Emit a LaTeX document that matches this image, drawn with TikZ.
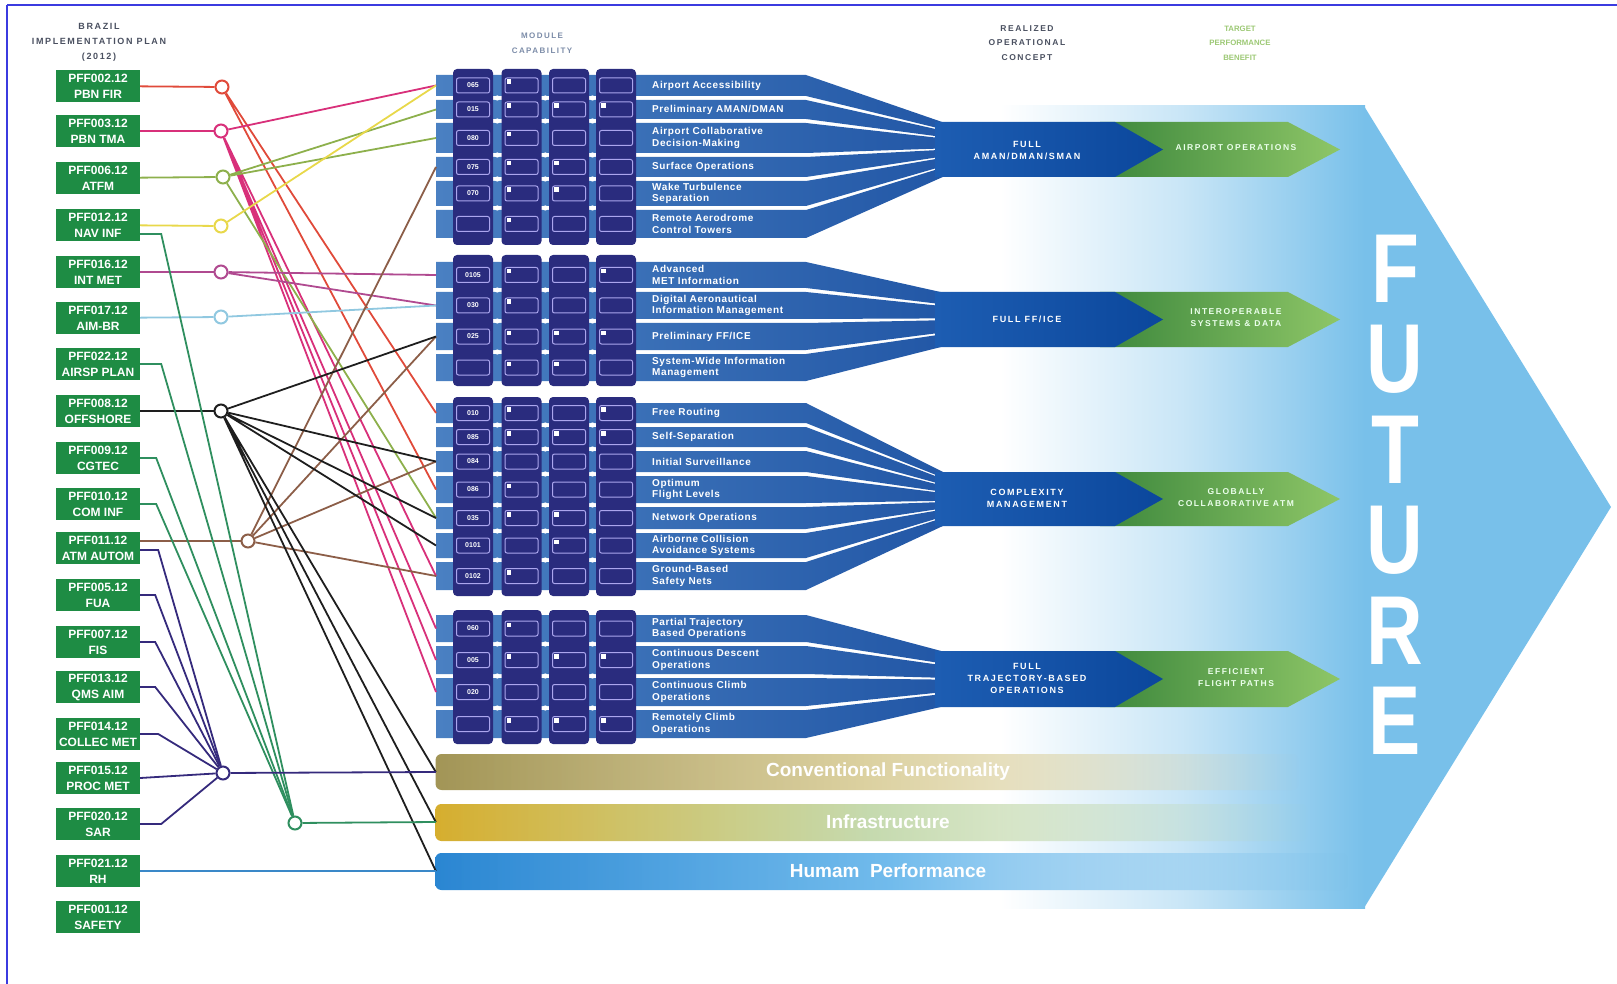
\documentclass[tikz,border=0pt]{standalone}
\usepackage{fontspec}
\setmainfont{Liberation Sans}
\newfontfamily\wfont[LetterSpace=18]{Liberation Sans}
\newfontfamily\lfont[LetterSpace=6]{Liberation Sans}
\usetikzlibrary{fadings}
\definecolor{frameblue}{HTML}{3B3BE0}
\definecolor{futblue}{HTML}{78C0EA}
\definecolor{bandL}{HTML}{4A80C2}
\definecolor{bandR}{HTML}{2257A6}
\definecolor{conBlue}{HTML}{0B479C}
\definecolor{conBlueL}{HTML}{1D5DB2}
\definecolor{grnL}{HTML}{3C873C}
\definecolor{grnR}{HTML}{8EC667}
\definecolor{colNavy}{HTML}{2A2C7E}
\definecolor{boxLine}{HTML}{ABA6EE}
\definecolor{pffGreen}{HTML}{1E8C44}
\definecolor{lnRed}{HTML}{E04A3A}
\definecolor{lnMag}{HTML}{D8307A}
\definecolor{lnOlive}{HTML}{8DB04C}
\definecolor{lnYel}{HTML}{E8D84A}
\definecolor{lnPur}{HTML}{B04A90}
\definecolor{lnSky}{HTML}{90C8E0}
\definecolor{lnBlk}{HTML}{1E1E1E}
\definecolor{lnBrn}{HTML}{8C5E48}
\definecolor{lnGrn}{HTML}{2F8F5F}
\definecolor{lnNavy}{HTML}{352A7C}
\definecolor{lnBlue}{HTML}{3A88C8}
\definecolor{convL}{HTML}{A29556}
\definecolor{convM}{HTML}{D8CC96}
\definecolor{infL}{HTML}{D6AE2E}
\definecolor{infM}{HTML}{BFD6A6}
\definecolor{humL}{HTML}{2A86D2}
\definecolor{humM}{HTML}{62B4EA}
\definecolor{hdGray}{HTML}{4A5060}
\definecolor{hdBlue}{HTML}{7C8CA8}
\definecolor{hdGreen}{HTML}{9CC874}
\tikzfading[name=fadeR, left color=transparent!0, right color=transparent!100, middle color=transparent!10]
\begin{document}
\begin{tikzpicture}[x=1pt,y=-1pt,
  pff/.style={fill=pffGreen, text=white, font=\bfseries\fontsize{12}{16}\selectfont, minimum width=84pt, minimum height=32pt, inner sep=0pt, align=center},
  jn/.style={circle, minimum size=13pt, inner sep=0pt, fill=white, line width=2pt},
  ln/.style={line width=1.8pt},
  ibox/.style={draw=boxLine, fill=colNavy, line width=1pt, rounded corners=2pt},
  code/.style={text=white, font=\bfseries\fontsize{7}{8}\selectfont, inner sep=0pt},
  mlab/.style={anchor=west, text=white, align=left, inner sep=0pt, font=\lfont\bfseries\fontsize{10}{11.5}\selectfont},
  ctext/.style={text=white, align=center, inner sep=0pt, font=\wfont\bfseries\fontsize{9}{12}\selectfont},
  gtext/.style={text=white!92!green, align=center, inner sep=0pt, font=\wfont\bfseries\fontsize{8.5}{12}\selectfont},
  hdr/.style={align=center, inner sep=0pt, font=\wfont\bfseries\fontsize{9}{15}\selectfont},
  bartext/.style={text=white, inner sep=0pt, minimum height=36pt, minimum width=904pt, font=\bfseries\fontsize{19}{22}\selectfont},
  fut/.style={text=white, anchor=base, inner sep=0pt, text height=70pt, text depth=0pt, font=\bfseries\fontsize{98}{98}\selectfont}
]
\useasboundingbox (0,0) rectangle (1617,984);
% frame
\draw[frameblue, line width=1.5pt] (7,5) -- (1617,5) (7,5) -- (7,984);

% big FUTURE arrow
\shade[left color=white, right color=futblue, middle color=futblue!40] (1000,106) rectangle (1365,908);
\fill[futblue] (1364,106) -- (1611,507) -- (1364,908) -- cycle;

% bottom bars
\path[left color=convL, right color=convM, middle color=convM, path fading=fadeR, rounded corners=6pt] (436,754) rectangle (1300,790);
\path[left color=infL, right color=infM, middle color=infM, path fading=fadeR, rounded corners=6pt] (436,804) rectangle (1310,841);
\path[left color=humL, right color=humM, middle color=humM, path fading=fadeR, rounded corners=6pt] (436,853) rectangle (1350,890);
\node[bartext] (conv) at (888,772) {Conventional Functionality};
\node[bartext] (infra) at (888,822) {Infrastructure};
\node[bartext] (human) at (888,871) {Humam\ \ Performance};

% green benefit arrows
\foreach \T/\B in {122/177, 292/347, 472/526, 651/707}{
  \pgfmathsetmacro{\M}{(\T+\B)/2}
  \shade[left color=grnL, right color=grnR] (1100,\T) -- (1288,\T) -- (1340,\M) -- (1288,\B) -- (1100,\B) -- cycle;
}

% row bands (funnels)
\foreach \t/\b/\Ya/\Yb/\Ca/\Cb in {
  75/96/75/238/123/176, 100/119/75/238/123/176, 123/153/75/238/123/176,
  157/177/75/238/123/176, 181/206/75/238/123/176, 210/238/75/238/123/176,
  262/288/262/381/293/346, 292/319/262/381/293/346, 323/350/262/381/293/346, 354/381/262/381/293/346,
  403/423/403/590/473/525, 427/447/403/590/473/525, 451/472/403/590/473/525, 476/503/403/590/473/525,
  507/529/403/590/473/525, 533/558/403/590/473/525, 562/590/403/590/473/525,
  615/642/615/738/652/706, 646/674/615/738/652/706, 678/706/615/738/652/706, 710/738/615/738/652/706}{
  \pgfmathsetmacro{\mt}{\Ca+(\t-\Ya)*(\Cb-\Ca)/(\Yb-\Ya)}
  \pgfmathsetmacro{\mb}{\Ca+(\b-\Ya)*(\Cb-\Ca)/(\Yb-\Ya)}
  \shade[left color=bandL, right color=bandR] (436,\t) -- (806,\t) -- (945,\mt) -- (945,\mb) -- (806,\b) -- (436,\b) -- cycle;
}

% concept arrows
\foreach \T/\B in {122/177, 292/347, 472/526, 651/707}{
  \pgfmathsetmacro{\M}{(\T+\B)/2}
  \shade[left color=conBlueL, right color=conBlue] (935,\T) -- (1115,\T) -- (1163,\M) -- (1115,\B) -- (935,\B) -- cycle;
}
\node[ctext] (con1) at (1027,150) {FULL\\AMAN/DMAN/SMAN};
\node[ctext] (con2) at (1027,319) {FULL FF/ICE};
\node[ctext] (con3) at (1027,498) {COMPLEXITY\\MANAGEMENT};
\node[ctext] (con4) at (1027,678) {FULL\\TRAJECTORY-BASED\\OPERATIONS};
\node[gtext] (ben1) at (1236,148) {AIRPORT OPERATIONS};
\node[gtext] (ben2) at (1236,318) {INTEROPERABLE\\SYSTEMS \& DATA};
\node[gtext] (ben3) at (1236,498) {GLOBALLY\\COLLABORATIVE ATM};
\node[gtext] (ben4) at (1236,678) {EFFICIENT\\FLIGHT PATHS};

% module columns
\foreach \Ya/\Yb in {69/245, 255/386, 397/596, 610/744}{
  \foreach \cx in {473,521.5,569,616}{
    \fill[colNavy, rounded corners=4pt] (\cx-20,\Ya) rectangle (\cx+20,\Yb);
  }
}
% white dots between rows
\foreach \gy in {98,121,155,179,208,241, 290,321,352, 425,449,474,505,531,560, 644,676,708}{
  \foreach \gx in {497.25,545.25,592.5}{
    \fill[white] (\gx,\gy) circle (2.6pt);
  }
}

% rows
\foreach \n/\t/\b/\cd/\lab/\ma/\mb/\mc in {
 1/75/96/065/{Airport Accessibility}/1/0/0,
 2/100/119/015/{Preliminary AMAN/DMAN}/1/1/1,
 3/123/153/080/{Airport Collaborative\\Decision-Making}/1/0/0,
 4/157/177/075/{Surface Operations}/1/1/0,
 5/181/206/070/{Wake Turbulence\\Separation}/1/1/0,
 6/210/238/{}/{Remote Aerodrome\\Control Towers}/1/0/0,
 7/262/288/0105/{Advanced\\MET Information}/1/0/1,
 8/292/319/030/{Digital Aeronautical\\Information Management}/1/0/0,
 9/323/350/025/{Preliminary FF/ICE}/1/1/1,
 10/354/381/{}/{System-Wide Information\\Management}/1/1/0,
 11/403/423/010/{Free Routing}/1/0/1,
 12/427/447/085/{Self-Separation}/1/1/1,
 13/451/472/084/{Initial Surveillance}/0/0/0,
 14/476/503/086/{Optimum\\Flight Levels}/1/0/0,
 15/507/529/035/{Network Operations}/1/1/0,
 16/533/558/0101/{Airborne Collision\\Avoidance Systems}/0/1/0,
 17/562/590/0102/{Ground-Based\\Safety Nets}/1/0/0,
 18/615/642/060/{Partial Trajectory\\Based Operations}/1/0/0,
 19/646/674/005/{Continuous Descent\\Operations}/1/1/1,
 20/678/706/020/{Continuous Climb\\Operations}/0/0/0,
 21/710/738/{}/{Remotely Climb\\Operations}/1/1/1}{
  \pgfmathsetmacro{\yc}{(\t+\b)/2}
  \coordinate (r\n) at (436,\yc);
  \foreach \cx in {473,521.5,569,616}{
    \draw[ibox] (\cx-16.5,\yc-7.5) rectangle (\cx+16.5,\yc+7.5);
  }
  \node[code] (cd\n) at (473,\yc) {\cd};
  \ifnum\ma=1 \fill[white] (506.5,\yc-6) rectangle ++(4.5,4.5); \fi
  \ifnum\mb=1 \fill[white] (554,\yc-6) rectangle ++(4.5,4.5); \fi
  \ifnum\mc=1 \fill[white] (601,\yc-6) rectangle ++(4.5,4.5); \fi
  \node[mlab] (ml\n) at (652,\yc) {\lab};
}

% FUTURE letters
\node[fut] (fu1) at (1395,302) {\scalebox{0.8}[1]{F}};
\node[fut] (fu2) at (1395,392.5) {\scalebox{0.8}[1]{U}};
\node[fut] (fu3) at (1395,483) {\scalebox{0.8}[1]{T}};
\node[fut] (fu4) at (1395,573.5) {\scalebox{0.8}[1]{U}};
\node[fut] (fu5) at (1395,664) {\scalebox{0.8}[1]{R}};
\node[fut] (fu6) at (1395,754.5) {\scalebox{0.8}[1]{E}};

% headers
\node[hdr, text=hdGray] (h1) at (99,42) {BRAZIL\\IMPLEMENTATION PLAN\\(2012)};
\node[hdr, text=hdBlue, font=\wfont\bfseries\fontsize{8}{15}\selectfont] (h2) at (542,43) {MODULE\\CAPABILITY};
\node[hdr, text=hdGray, font=\wfont\bfseries\fontsize{8.5}{14.5}\selectfont] (h3) at (1027,43) {REALIZED\\OPERATIONAL\\CONCEPT};
\node[hdr, text=hdGreen, font=\bfseries\fontsize{7.8}{14.5}\selectfont] (h4) at (1240,43) {TARGET\\PERFORMANCE\\BENEFIT};

% PFF boxes
\node[pff] (b1) at (98,86) {PFF002.12\\PBN FIR};
\node[pff] (b2) at (98,131) {PFF003.12\\PBN TMA};
\node[pff] (b3) at (98,178) {PFF006.12\\ATFM};
\node[pff] (b4) at (98,225) {PFF012.12\\NAV INF};
\node[pff] (b5) at (98,272) {PFF016.12\\INT MET};
\node[pff] (b6) at (98,318) {PFF017.12\\AIM-BR};
\node[pff] (b7) at (98,364) {PFF022.12\\AIRSP PLAN};
\node[pff] (b8) at (98,411) {PFF008.12\\OFFSHORE};
\node[pff] (b9) at (98,458) {PFF009.12\\CGTEC};
\node[pff] (b10) at (98,504) {PFF010.12\\COM INF};
\node[pff] (b11) at (98,548) {PFF011.12\\ATM AUTOM};
\node[pff] (b12) at (98,595) {PFF005.12\\FUA};
\node[pff] (b13) at (98,642) {PFF007.12\\FIS};
\node[pff] (b14) at (98,687) {PFF013.12\\QMS AIM};
\node[pff] (b15) at (98,734) {PFF014.12\\COLLEC MET};
\node[pff] (b16) at (98,778) {PFF015.12\\PROC MET};
\node[pff] (b17) at (98,824) {PFF020.12\\SAR};
\node[pff] (b18) at (98,871) {PFF021.12\\RH};
\node[pff] (b19) at (98,917) {PFF001.12\\SAFETY};

% junctions
\node[jn, draw=lnRed] (c1) at (222,87) {};
\node[jn, draw=lnMag] (c2) at (221,131) {};
\node[jn, draw=lnOlive] (c3) at (223,177) {};
\node[jn, draw=lnYel] (c4) at (221,226) {};
\node[jn, draw=lnPur] (c5) at (221,272) {};
\node[jn, draw=lnSky] (c6) at (221,317) {};
\node[jn, draw=lnBlk] (c7) at (221,411) {};
\node[jn, draw=lnBrn] (c8) at (248,541) {};
\node[jn, draw=lnNavy] (c9) at (223,773) {};
\node[jn, draw=lnGrn] (c10) at (295,823) {};

% box -> junction
\draw[ln, lnRed] (b1) -- (c1);
\draw[ln, lnMag] (b2) -- (c2);
\draw[ln, lnOlive] (b3) -- (c3);
\draw[ln, lnYel] (b4) -- (c4);
\draw[ln, lnPur] (b5) -- (c5);
\draw[ln, lnSky] (b6) -- (c6);
\draw[ln, lnBlk] (b8) -- (c7);
\draw[ln, lnBrn] ([yshift=7pt]b11.east) -- (c8);
\draw[ln, lnGrn] ([yshift=-9pt]b4.east) -- ++(21,0) -- (c10);
\draw[ln, lnGrn] (b7.east) -- ++(21,0) -- (c10);
\draw[ln, lnGrn] (b9.east) -- ++(16,0) -- (c10);
\draw[ln, lnGrn] (b10.east) -- ++(16,0) -- (c10);
\draw[ln, lnNavy] ([yshift=-2pt]b11.east) -- ++(18,0) -- (c9);
\draw[ln, lnNavy] (b12.east) -- ++(15,0) -- (c9);
\draw[ln, lnNavy] (b13.east) -- ++(15,0) -- (c9);
\draw[ln, lnNavy] (b14.east) -- ++(15,0) -- (c9);
\draw[ln, lnNavy] (b15.east) -- ++(18,0) -- (c9);
\draw[ln, lnNavy] (b16.east) -- (c9);
\draw[ln, lnNavy] (b17.east) -- ++(21,0) -- (c9);

% junction -> modules
\draw[ln, lnRed] (c1) -- (r11) (c1) -- (r14);
\draw[ln, lnMag] (c2) -- (r1) (c2) -- (r17) (c2) -- (r18) (c2) -- (r19) (c2) -- (r20);
\draw[ln, lnOlive] (c3) -- (r2) (c3) -- (r3) (c3) -- (r15);
\draw[ln, lnYel] (c4) -- (r1);
\draw[ln, lnPur] (c5) -- (r7) (c5) -- (r8);
\draw[ln, lnSky] (c6) -- (r8);
\draw[ln, lnBrn] (c8) -- (r4) (c8) -- (r9) (c8) -- (r13) (c8) -- (r17);
\draw[ln, lnBlk] (c7) -- (r9) (c7) -- (r13) (c7) -- (r15) (c7) -- (r16);
\draw[ln, lnBlk] (c7) -- (conv.west) (c7) -- (infra.west) (c7) -- (human.west);
\draw[ln, lnNavy] (c9) -- (conv.west);
\draw[ln, lnGrn] (c10) -- (infra.west);
\draw[ln, lnBlue] (b18) -- (human.west);
\end{tikzpicture}
\end{document}
